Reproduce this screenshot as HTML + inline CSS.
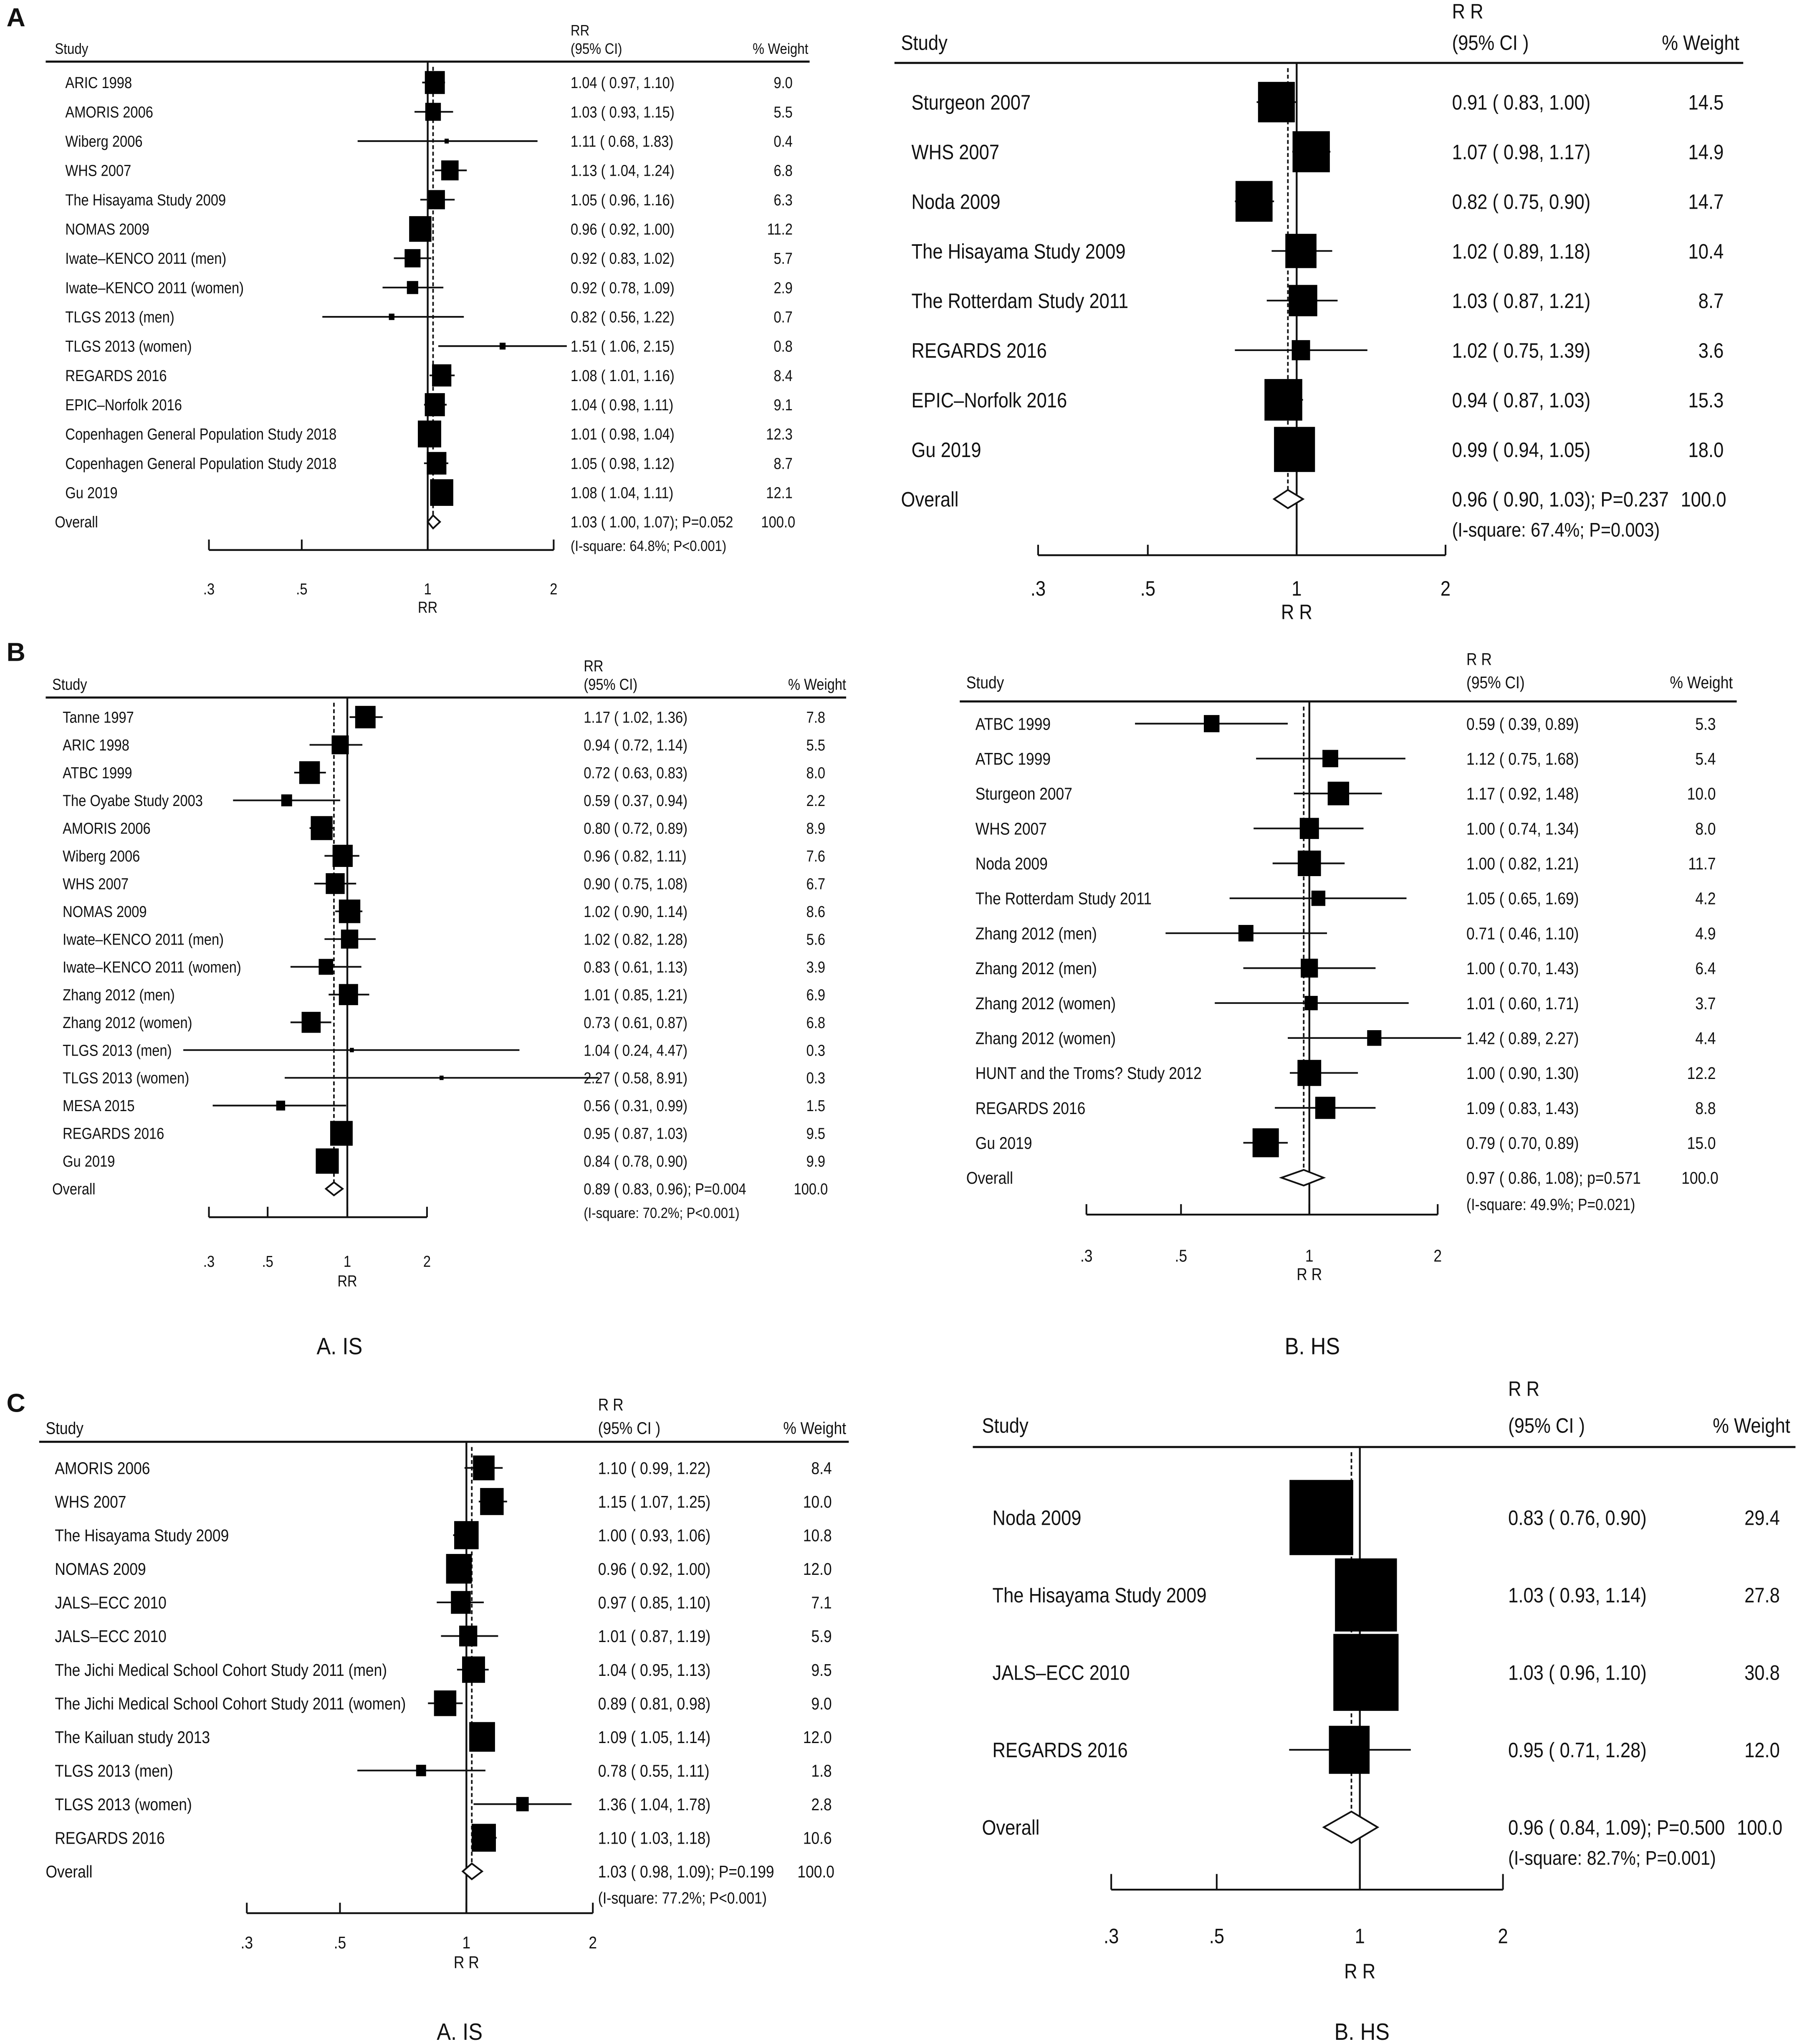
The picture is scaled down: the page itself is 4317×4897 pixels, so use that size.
<!DOCTYPE html>
<html><head><meta charset="utf-8"><style>
html,body{margin:0;padding:0;background:#fff}
svg{display:block}
text{font-family:"Liberation Sans Narrow","Liberation Sans",sans-serif;fill:#111}
</style></head><body>
<svg id="fig" xmlns="http://www.w3.org/2000/svg" width="4317" height="4897" viewBox="0 0 1380 1565">
<rect width="1380" height="1565" fill="#fff"/>
<text x="5" y="20" font-size="20" font-weight="bold" font-family="Liberation Sans">A</text>
<text x="5" y="506" font-size="20" font-weight="bold" font-family="Liberation Sans">B</text>
<text x="5" y="1081" font-size="20" font-weight="bold" font-family="Liberation Sans">C</text>
<text transform="translate(260,1037) scale(0.9,1)" font-size="18" text-anchor="middle">A. IS</text>
<text transform="translate(1005,1037) scale(0.9,1)" font-size="18" text-anchor="middle">B. HS</text>
<text transform="translate(352,1562) scale(0.9,1)" font-size="18" text-anchor="middle">A. IS</text>
<text transform="translate(1043,1562) scale(0.9,1)" font-size="18" text-anchor="middle">B. HS</text>
</svg>
<script>
// Panel A left
const aL_studies=["ARIC 1998","AMORIS 2006","Wiberg 2006","WHS 2007","The Hisayama Study 2009","NOMAS 2009","Iwate–KENCO 2011 (men)","Iwate–KENCO 2011 (women)","TLGS 2013 (men)","TLGS 2013 (women)","REGARDS 2016","EPIC–Norfolk 2016","Copenhagen General Population Study 2018","Copenhagen General Population Study 2018","Gu 2019"];
const aL_est=[1.04,1.03,1.11,1.13,1.05,0.96,0.92,0.92,0.82,1.51,1.08,1.04,1.01,1.05,1.08];
const aL_lo=[0.97,0.93,0.68,1.04,0.96,0.92,0.83,0.78,0.56,1.06,1.01,0.98,0.98,0.98,1.04];
const aL_hi=[1.10,1.15,1.83,1.24,1.16,1.00,1.02,1.09,1.22,2.15,1.16,1.11,1.04,1.12,1.11];
const aL_w=[9.0,5.5,0.4,6.8,6.3,11.2,5.7,2.9,0.7,0.8,8.4,9.1,12.3,8.7,12.1];
const aL_overall=[1.03,1.00,1.07]; const aL_stats=["P=0.052","(I-square: 64.8%; P<0.001)"];
// Panel A right
const aR_studies=["Sturgeon 2007","WHS 2007","Noda 2009","The Hisayama Study 2009","The Rotterdam Study 2011","REGARDS 2016","EPIC–Norfolk 2016","Gu 2019"];
const aR_est=[0.91,1.07,0.82,1.02,1.03,1.02,0.94,0.99];
const aR_lo=[0.83,0.98,0.75,0.89,0.87,0.75,0.87,0.94];
const aR_hi=[1.00,1.17,0.90,1.18,1.21,1.39,1.03,1.05];
const aR_w=[14.5,14.9,14.7,10.4,8.7,3.6,15.3,18.0];
const aR_overall=[0.96,0.90,1.03]; const aR_stats=["P=0.237","(I-square: 67.4%; P=0.003)"];
// Panel B left
const bL_studies=["Tanne 1997","ARIC 1998","ATBC 1999","The Oyabe Study 2003","AMORIS 2006","Wiberg 2006","WHS 2007","NOMAS 2009","Iwate–KENCO 2011 (men)","Iwate–KENCO 2011 (women)","Zhang 2012 (men)","Zhang 2012 (women)","TLGS 2013 (men)","TLGS 2013 (women)","MESA 2015","REGARDS 2016","Gu 2019"];
const bL_est=[1.17,0.94,0.72,0.59,0.80,0.96,0.90,1.02,1.02,0.83,1.01,0.73,1.04,2.27,0.56,0.95,0.84];
const bL_lo=[1.02,0.72,0.63,0.37,0.72,0.82,0.75,0.90,0.82,0.61,0.85,0.61,0.24,0.58,0.31,0.87,0.78];
const bL_hi=[1.36,1.14,0.83,0.94,0.89,1.11,1.08,1.14,1.28,1.13,1.21,0.87,4.47,8.91,0.99,1.03,0.90];
const bL_w=[7.8,5.5,8.0,2.2,8.9,7.6,6.7,8.6,5.6,3.9,6.9,6.8,0.3,0.3,1.5,9.5,9.9];
const bL_overall=[0.89,0.83,0.96]; const bL_stats=["P=0.004","(I-square: 70.2%; P<0.001)"];
// Panel B right
const bR_studies=["ATBC 1999","ATBC 1999","Sturgeon 2007","WHS 2007","Noda 2009","The Rotterdam Study 2011","Zhang 2012 (men)","Zhang 2012 (men)","Zhang 2012 (women)","Zhang 2012 (women)","HUNT and the Troms? Study 2012","REGARDS 2016","Gu 2019"];
const bR_est=[0.59,1.12,1.17,1.00,1.00,1.05,0.71,1.00,1.01,1.42,1.00,1.09,0.79];
const bR_lo=[0.39,0.75,0.92,0.74,0.82,0.65,0.46,0.70,0.60,0.89,0.90,0.83,0.70];
const bR_hi=[0.89,1.68,1.48,1.34,1.21,1.69,1.10,1.43,1.71,2.27,1.30,1.43,0.89];
const bR_w=[5.3,5.4,10.0,8.0,11.7,4.2,4.9,6.4,3.7,4.4,12.2,8.8,15.0];
const bR_overall=[0.97,0.86,1.08]; const bR_stats=["p=0.571","(I-square: 49.9%; P=0.021)"];
// Panel C left
const cL_studies=["AMORIS 2006","WHS 2007","The Hisayama Study 2009","NOMAS 2009","JALS–ECC 2010","JALS–ECC 2010","The Jichi Medical School Cohort Study 2011 (men)","The Jichi Medical School Cohort Study 2011 (women)","The Kailuan study 2013","TLGS 2013 (men)","TLGS 2013 (women)","REGARDS 2016"];
const cL_est=[1.10,1.15,1.00,0.96,0.97,1.01,1.04,0.89,1.09,0.78,1.36,1.10];
const cL_lo=[0.99,1.07,0.93,0.92,0.85,0.87,0.95,0.81,1.05,0.55,1.04,1.03];
const cL_hi=[1.22,1.25,1.06,1.00,1.10,1.19,1.13,0.98,1.14,1.11,1.78,1.18];
const cL_w=[8.4,10.0,10.8,12.0,7.1,5.9,9.5,9.0,12.0,1.8,2.8,10.6];
const cL_overall=[1.03,0.98,1.09]; const cL_stats=["P=0.199","(I-square: 77.2%; P<0.001)"];
// Panel C right
const cR_studies=["Noda 2009","The Hisayama Study 2009","JALS–ECC 2010","REGARDS 2016"];
const cR_est=[0.83,1.03,1.03,0.95];
const cR_lo=[0.76,0.93,0.96,0.71];
const cR_hi=[0.90,1.14,1.10,1.28];
const cR_w=[29.4,27.8,30.8,12.0];
const cR_overall=[0.96,0.84,1.09]; const cR_stats=["P=0.500","(I-square: 82.7%; P=0.001)"];
const tickVals=[0.3,0.5,1,2]; const tickLabels=[".3",".5","1","2"];

const NS="http://www.w3.org/2000/svg";
const svg=document.getElementById('fig');
const SX=0.87;
function mk(tag,attrs,parent,txt){const e=document.createElementNS(NS,tag);for(const k in attrs)e.setAttribute(k,attrs[k]);if(txt!==undefined)e.textContent=txt;(parent||svg).appendChild(e);return e;}
function tx(g,x,y,size,str,anchor){
  const a={transform:`translate(${x},${y}) scale(${SX},1)`,'font-size':size};
  if(anchor)a['text-anchor']=anchor;
  return mk('text',a,g,str);
}
const f2=v=>v.toFixed(2);

function panel(id,P,studies,est,lo,hi,w,overall,stats){
  const g=mk('g',{});
  
  
  const xs=v=>P.x03+(Math.log(v)-Math.log(0.3))/(Math.log(2)-Math.log(0.3))*(P.x2-P.x03);
  const x1=xs(1);
  const fs=P.fs, hfs=P.hfs;
  let t=tx(g,P.hx,P.headY,hfs,'Study');
  
  t=tx(g,P.rrX,P.headY-P.hgap,hfs,P.rrLbl);
  
  t=tx(g,P.rrX,P.headY,hfs,P.ciLbl);
  
  t=tx(g,P.wR,P.headY,hfs,'% Weight','end');
  
  let l=mk('line',{x1:P.lx1,x2:P.lx2,y1:P.lineY,y2:P.lineY,stroke:'#111','stroke-width':1.6},g);
  
  l=mk('line',{x1:x1,x2:x1,y1:P.lineY,y2:P.axisY,stroke:'#111','stroke-width':1.4},g);
  
  const n=studies.length; const oy=P.y0+n*P.step;
  l=mk('line',{x1:xs(overall[0]),x2:xs(overall[0]),y1:P.lineY+4,y2:oy,stroke:'#111','stroke-width':1.2,'stroke-dasharray':'3,2'},g);
  
  for(let i=0;i<n;i++){
    const y=P.y0+i*P.step;
    t=tx(g,P.sx,y+fs*0.36,fs,studies[i]);
    
    l=mk('line',{x1:xs(lo[i]),x2:xs(hi[i]),y1:y,y2:y,stroke:'#111','stroke-width':1.3},g);
    
    const s=P.k*Math.sqrt(w[i]); const h=s*P.asp;
    const r=mk('rect',{x:xs(est[i])-s/2,y:y-h/2,width:s,height:h,fill:'#000'},g);
    
    t=tx(g,P.rrX,y+fs*0.36,fs,f2(est[i])+' ( '+f2(lo[i])+', '+f2(hi[i])+')');
    
    t=tx(g,P.wR-P.wOff,y+fs*0.36,fs,w[i].toFixed(1),'end');
    
  }
  t=tx(g,P.hx,oy+fs*0.36,fs,'Overall');
  
  const dl=xs(overall[1]),dr=xs(overall[2]),dc=xs(overall[0]);
  const dh=P.dh;
  const d=mk('polygon',{points:`${dl},${oy} ${dc},${oy-dh} ${dr},${oy} ${dc},${oy+dh}`,fill:'#fff',stroke:'#111','stroke-width':1.3},g);
  
  t=tx(g,P.rrX,oy+fs*0.36,fs,f2(overall[0])+' ( '+f2(overall[1])+', '+f2(overall[2])+'); '+stats[0]);
  
  t=tx(g,P.rrX,oy+fs*0.36+P.isq,fs*0.95,stats[1]);
  
  t=tx(g,P.wR-P.wOff+2,oy+fs*0.36,fs,'100.0','end');
  
  l=mk('line',{x1:xs(0.3),x2:xs(2),y1:P.axisY,y2:P.axisY,stroke:'#111','stroke-width':1.4},g);
  
  for(let i=0;i<tickVals.length;i++){
    const x=xs(tickVals[i]);
    l=mk('line',{x1:x,x2:x,y1:P.axisY,y2:P.axisY-P.tick,stroke:'#111','stroke-width':1.3},g);
    
    t=tx(g,x,P.axisY+P.tlOff,fs,tickLabels[i],'middle');
    
  }
  t=tx(g,x1,P.axisY+P.tlOff+P.rrOff,fs,P.rrLbl,'middle');
  
}
panel('a-left',{hx:42,sx:50,headY:41,hgap:14,lineY:47,lx1:35,lx2:620,y0:63,step:22.43,axisY:421,x03:160,x2:424,rrX:437,wR:619,wOff:12,fs:12,hfs:11.5,k:5.1,asp:1.15,dh:5,isq:18,tick:8,tlOff:34,rrOff:14,rrLbl:'RR',ciLbl:'(95% CI)'},aL_studies,aL_est,aL_lo,aL_hi,aL_w,aL_overall,aL_stats);
panel('a-right',{hx:690,sx:698,headY:38,hgap:24,lineY:48,lx1:685,lx2:1335,y0:78,step:38,axisY:425,x03:795,x2:1107,rrX:1112,wR:1332,wOff:12,fs:16,hfs:16,k:7.4,asp:1.1,dh:7,isq:23,tick:8,tlOff:31,rrOff:18,rrLbl:'R R',ciLbl:'(95% CI )'},aR_studies,aR_est,aR_lo,aR_hi,aR_w,aR_overall,aR_stats);
panel('b-left',{hx:40,sx:48,headY:528,hgap:14,lineY:534,lx1:35,lx2:648,y0:549,step:21.25,axisY:932,x03:160,x2:327,rrX:447,wR:648,wOff:16,fs:12,hfs:12,k:5.6,asp:1.1,dh:5,isq:18,tick:8,tlOff:38,rrOff:15,rrLbl:'RR',ciLbl:'(95% CI)'},bL_studies,bL_est,bL_lo,bL_hi,bL_w,bL_overall,bL_stats);
panel('b-right',{hx:740,sx:747,headY:527,hgap:18,lineY:537,lx1:735,lx2:1330,y0:554,step:26.75,axisY:930,x03:832,x2:1101,rrX:1123,wR:1327,wOff:13,fs:13,hfs:13,k:5.2,asp:1.1,dh:6,isq:20,tick:8,tlOff:36,rrOff:14,rrLbl:'R R',ciLbl:'(95% CI)'},bR_studies,bR_est,bR_lo,bR_hi,bR_w,bR_overall,bR_stats);
panel('c-left',{hx:35,sx:42,headY:1098,hgap:18,lineY:1104,lx1:30,lx2:650,y0:1124,step:25.75,axisY:1465,x03:189,x2:454,rrX:458,wR:648,wOff:11,fs:13,hfs:13,k:5.7,asp:1.15,dh:6,isq:20,tick:8,tlOff:27,rrOff:15,rrLbl:'R R',ciLbl:'(95% CI )'},cL_studies,cL_est,cL_lo,cL_hi,cL_w,cL_overall,cL_stats);
panel('c-right',{hx:752,sx:760,headY:1097,hgap:28,lineY:1108,lx1:745,lx2:1375,y0:1162,step:59.3,axisY:1447,x03:851,x2:1151,rrX:1155,wR:1371,wOff:8,fs:16,hfs:16,k:9,asp:1.18,dh:12,isq:23,tick:12,tlOff:41,rrOff:27,rrLbl:'R R',ciLbl:'(95% CI )'},cR_studies,cR_est,cR_lo,cR_hi,cR_w,cR_overall,cR_stats);
</script>
</body></html>
